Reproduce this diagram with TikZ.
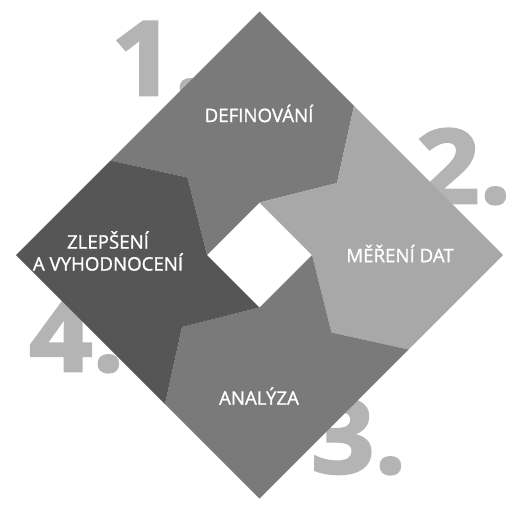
\documentclass[tikz,border=0pt]{standalone}
\usepackage{fontspec}
\setmainfont{Open Sans}
\newfontfamily\numfont[FakeBold=2.5,FakeStretch=1.08]{Open Sans Bold}
\newfontfamily\namefont[FakeBold=1.2]{Open Sans}
\usepackage{tikz}

\definecolor{numgray}{HTML}{B4B4B4}
\definecolor{midgray}{HTML}{7A7A7A}
\definecolor{palegray}{HTML}{A8A8A8}
\definecolor{deepgray}{HTML}{565656}

\tikzset{
  bignum/.style={anchor=base west, inner sep=0pt, text=numgray, font=\fontsize{77}{77}\numfont},
  steptext/.style={inner sep=0pt, text=white, align=center, font=\fontsize{14}{16.5}\namefont}
}

\begin{document}
\begin{tikzpicture}[x=0.75pt, y=-0.75pt]
                \useasboundingbox (0,0) rectangle (523,511);
                % step numbers behind the square
                \node[bignum] (n1) at (111,95) {1.};
                \node[bignum] (n2) at (416,203) {2.};
                \node[bignum] (n3) at (311,473) {3.};
                \node[bignum] (n4) at (29,371) {4.};
                % corners of the square and of the hole
                \coordinate (T) at (259.5,11.5);
                \coordinate (R) at (503,255);
                \coordinate (B) at (259.5,498.5);
                \coordinate (L) at (16,255);
                \coordinate (iT) at (259.5,202.5);
                \coordinate (iR) at (312,255);
                \coordinate (iB) at (259.5,307.5);
                \coordinate (iL) at (207,255);
                % kinks and ends of the borders between the steps
                \coordinate (k1) at (337,183);     \coordinate (o1) at (354,106);
                \coordinate (k2) at (331.5,332.5); \coordinate (o2) at (408.5,349.5);
                \coordinate (k3) at (182,327);     \coordinate (o3) at (165,404);
                \coordinate (k4) at (187.5,177.5); \coordinate (o4) at (110.5,160.5);
                \fill[midgray] (o4) -- (T) -- (o1) -- (k1) -- (iT) -- (iL) -- (k4) -- cycle;
                \fill[palegray] (o1) -- (R) -- (o2) -- (k2) -- (iR) -- (iT) -- (k1) -- cycle;
                \fill[midgray] (o2) -- (B) -- (o3) -- (k3) -- (iB) -- (iR) -- (k2) -- cycle;
                \fill[deepgray] (o3) -- (L) -- (o4) -- (k4) -- (iL) -- (iB) -- (k3) -- cycle;
                % step names
                \node[steptext] (def) at (259,113.5) {DEFINOVÁNÍ};
                \node[steptext] (mer) at (400,253.5) {MĚŘENÍ DAT};
                \node[steptext] (ana) at (259,396) {ANALÝZA};
                \node[steptext] (zle) at (108,251) {ZLEPŠENÍ\\A VYHODNOCENÍ};
              \end{tikzpicture}
\end{document}
